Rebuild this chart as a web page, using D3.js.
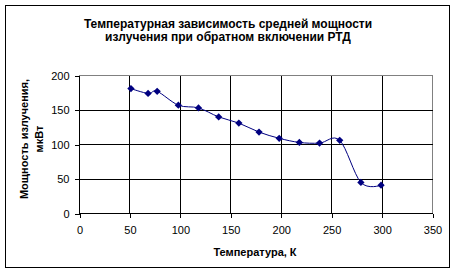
<!DOCTYPE html>
<html>
<head>
<meta charset="utf-8">
<script src="https://cdn.jsdelivr.net/npm/d3@7"></script>
<style>
  body { margin: 0; background: #fff; }
  svg text { font-family: "Liberation Sans", Arial, sans-serif; }
  line, rect { shape-rendering: crispEdges; }
</style>
</head>
<body>
<div class="chart"></div>
<script>
const temps = [51, 68, 77, 98, 118, 138, 158, 178, 198, 218, 238, 258, 279, 299];
const power = [181, 174, 177, 157, 153, 140, 131, 118, 109, 103, 102, 106, 45, 41];
const xTicks = [0, 50, 100, 150, 200, 250, 300, 350];
const yTicks = [0, 50, 100, 150, 200];
const titleLines = ["Температурная зависимость средней мощности", "излучения при обратном включении РТД"];
const yTitleLines = ["Мощность излучения,", "мкВт"];
const xTitle = "Температура, К";

var svg = d3.select(".chart").append("svg")
        .attr("width", 456)
        .attr("height", 275);

svg.append("rect")
        .attr("x", 5.5).attr("y", 5.5)
        .attr("width", 444).attr("height", 262)
        .attr("fill", "#fff")
        .attr("stroke", "#000");

var x = d3.scaleLinear().domain([0, 350]).range([79.5, 432.5]);
var y = d3.scaleLinear().domain([0, 200]).range([213.5, 75.5]);

// plot area border (grey top/right)
svg.append("rect")
        .attr("x", x(0)).attr("y", y(200))
        .attr("width", x(350) - x(0)).attr("height", y(0) - y(200))
        .attr("fill", "#fff")
        .attr("stroke", "#808080");

// gridlines
svg.selectAll(".hgrid")
        .data(yTicks.filter(d => d > 0 && d < 200))
        .enter().append("line")
        .attr("x1", x(0)).attr("x2", x(350))
        .attr("y1", d => y(d)).attr("y2", d => y(d))
        .attr("stroke", "#000");
svg.selectAll(".vgrid")
        .data(xTicks.filter(d => d > 0 && d < 350))
        .enter().append("line")
        .attr("x1", d => x(d)).attr("x2", d => x(d))
        .attr("y1", y(0)).attr("y2", y(200))
        .attr("stroke", "#000");

// axes
var xAxis = d3.axisBottom(x).tickValues(xTicks).tickSize(4).tickPadding(9);
var yAxis = d3.axisLeft(y).tickValues(yTicks).tickSize(5).tickPadding(5);

var gx = svg.append("g").attr("transform", "translate(0," + y(0) + ")").call(xAxis);
var gy = svg.append("g").attr("transform", "translate(" + x(0) + ",0)").call(yAxis);
[gx, gy].forEach(g => {
    g.select(".domain").remove();
    g.selectAll("line").attr("stroke", "#000");
    g.selectAll("text").attr("font-size", 11).attr("fill", "#000")
            .attr("font-family", "'Liberation Sans', Arial, sans-serif");
});
svg.append("line").attr("x1", x(0)).attr("x2", x(350)).attr("y1", y(0)).attr("y2", y(0)).attr("stroke", "#000");
svg.append("line").attr("x1", x(0)).attr("x2", x(0)).attr("y1", y(0)).attr("y2", y(200)).attr("stroke", "#000");

// series
var pts = temps.map((t, i) => [t, power[i]]);
var line = d3.line()
        .x(d => x(d[0]))
        .y(d => y(d[1]))
        .curve(d3.curveCardinal.tension(0));

svg.append("path")
        .datum(pts)
        .attr("d", line)
        .attr("fill", "none")
        .attr("stroke", "#000080")
        .attr("stroke-width", 1);

svg.selectAll(".pt")
        .data(pts)
        .enter().append("path")
        .attr("d", d3.symbol().type(d3.symbolDiamond2).size(34))
        .attr("transform", d => "translate(" + x(d[0]) + "," + y(d[1]) + ")")
        .attr("fill", "#000080");

// titles
svg.append("text")
        .attr("x", 228).attr("y", 28)
        .attr("text-anchor", "middle")
        .attr("font-size", 12).attr("font-weight", "bold")
        .selectAll("tspan")
        .data(titleLines)
        .enter().append("tspan")
        .attr("x", 228)
        .attr("dy", (d, i) => i === 0 ? 0 : 12.5)
        .text(d => d);

svg.append("text")
        .attr("x", 255).attr("y", 256)
        .attr("text-anchor", "middle")
        .attr("font-size", 11).attr("font-weight", "bold")
        .text(xTitle);

svg.append("text")
        .attr("transform", "translate(28,139) rotate(-90)")
        .attr("text-anchor", "middle")
        .attr("font-size", 11).attr("font-weight", "bold")
        .selectAll("tspan")
        .data(yTitleLines)
        .enter().append("tspan")
        .attr("x", 0)
        .attr("dy", (d, i) => i === 0 ? 0 : 15)
        .text(d => d);
</script>
</body>
</html>
